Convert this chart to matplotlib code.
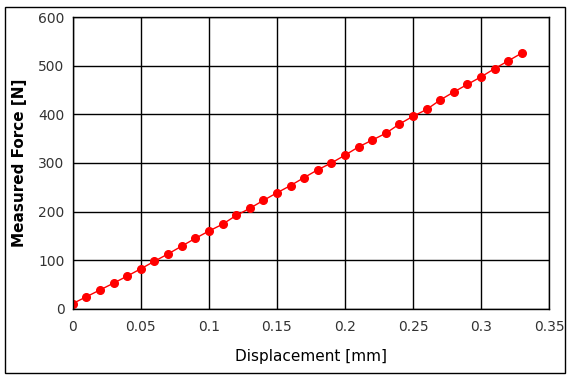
import matplotlib
matplotlib.use("Agg")
import matplotlib.pyplot as plt
from matplotlib.patches import Rectangle

displacement = [0.00, 0.01, 0.02, 0.03, 0.04, 0.05, 0.06, 0.07, 0.08, 0.09,
                0.10, 0.11, 0.12, 0.13, 0.14, 0.15, 0.16, 0.17, 0.18, 0.19,
                0.20, 0.21, 0.22, 0.23, 0.24, 0.25, 0.26, 0.27, 0.28, 0.29,
                0.30, 0.31, 0.32, 0.33]
force = [11, 25, 39, 53, 67.5, 82.5, 98, 113, 129, 145,
         160, 174, 192, 206.6, 223, 238.6, 253.6, 270, 286, 300,
         316, 333, 347, 361, 380, 396, 410, 429.5, 446, 461.6,
         477, 494, 510, 526]
xticks = [0, 0.05, 0.1, 0.15, 0.2, 0.25, 0.3, 0.35]
xticklabels = ["0", "0.05", "0.1", "0.15", "0.2", "0.25", "0.3", "0.35"]
yticks = [0, 100, 200, 300, 400, 500, 600]

plt.rcParams['font.family'] = ['DejaVu Sans']
fig = plt.figure(figsize=(5.69, 3.79), dpi=100)
ax = fig.add_axes([0.128, 0.185, 0.837, 0.770])

ax.plot(displacement, force, color='red', linewidth=1, marker='o',
        markersize=5.5, markerfacecolor='red', markeredgecolor='red')

ax.set_xlim(0, 0.35)
ax.set_ylim(0, 600)
ax.set_xticks(xticks)
ax.set_xticklabels(xticklabels)
ax.set_yticks(yticks)
ax.grid(True, color='black', linewidth=1)
ax.set_axisbelow(True)
for s in ax.spines.values():
    s.set_color('black')
    s.set_linewidth(1)
ax.tick_params(length=0, labelsize=10, colors='#333333', pad=6)
ax.tick_params(axis='x', pad=8)
ax.set_xlabel("Displacement [mm]", fontsize=11, color='black', labelpad=11)
ax.set_ylabel("Measured Force [N]", fontsize=11, color='black', fontweight='bold', labelpad=8)

fig.patches.append(Rectangle((5/569, 6/379), 560/569, 366/379, transform=fig.transFigure,
                             fill=False, edgecolor='black', linewidth=1))

fig.savefig("out.png", dpi=100)
